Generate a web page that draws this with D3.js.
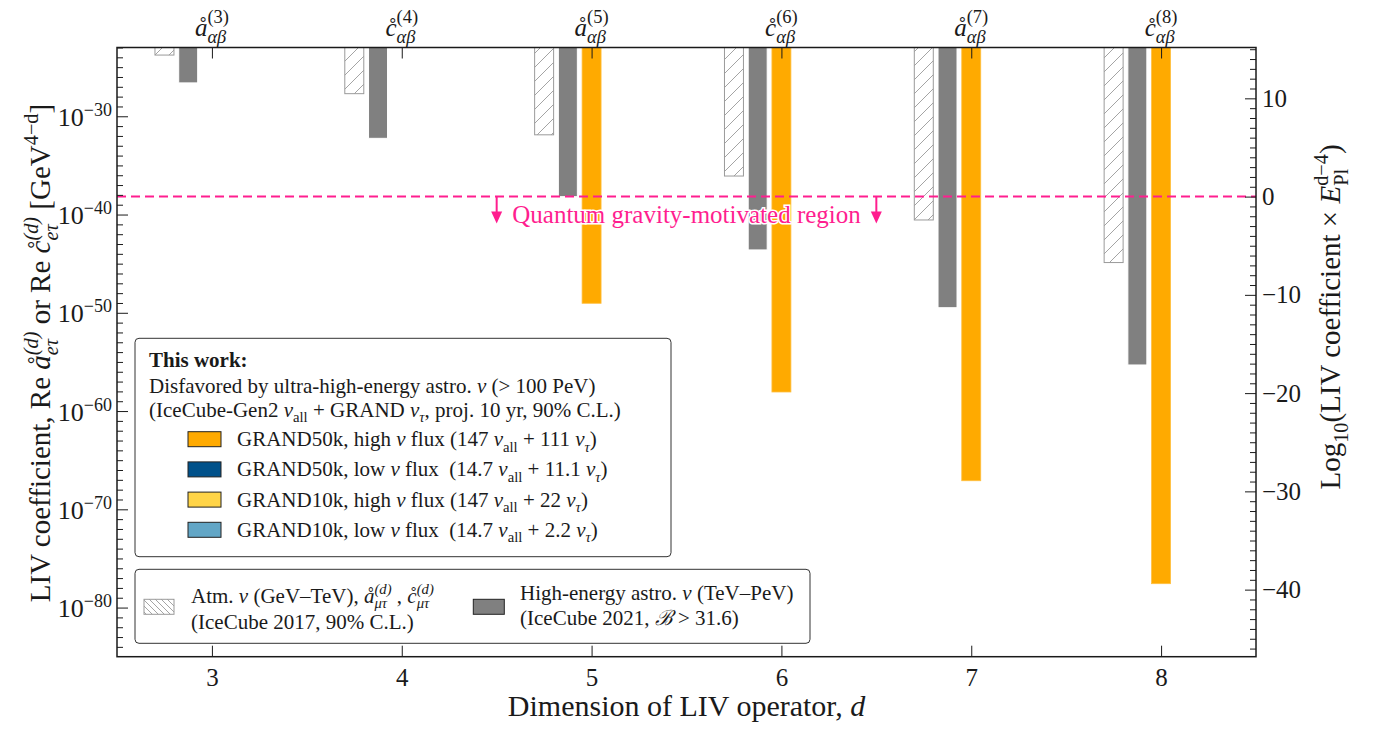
<!DOCTYPE html>
<html>
<head>
<meta charset="utf-8">
<script src="https://cdn.jsdelivr.net/npm/d3@7"></script>
<style>
  body { margin: 0; background: #fff; }
  text { font-family: "Liberation Serif", "DejaVu Serif", serif; fill: #1a1a1a; white-space: pre; }
</style>
</head>
<body>
<script>
// LIV operator dimension d, one group of bars per d
const dims = [3, 4, 5, 6, 7, 8];
const opLetters = ["å", "c\u030A", "å", "c\u030A", "å", "c\u030A"];

// upper limits on the LIV coefficient [GeV^(4-d)], bars hang from the top down to the limit
const atmLimit2017 = [1.7e-24, 2.0e-28, 1.3e-32, 8.3e-37, 2.8e-41, 1.3e-45];
const astroLimit2021 = [2.5e-27, 5.7e-33, 6.6e-39, 2.5e-44, 3.3e-50, 4.9e-56];
const grand50kHigh = [null, null, 9.3e-50, 8.7e-59, 8.1e-68, 2.7e-78];

// "this work" legend entries
const thisWorkNames = ["GRAND50k, high", "GRAND50k, low", "GRAND10k, high", "GRAND10k, low"];
const thisWorkNuAll = ["147", "14.7", "147", "14.7"];
const thisWorkNuTau = ["111", "11.1", "22", "2.2"];
const thisWorkColors = ["#ffaa00", "#00518a", "#ffd447", "#62a6c6"];

// axes
const leftMajorExp = [-30, -40, -50, -60, -70, -80];
const rightMajor = [10, 0, -10, -20, -30, -40];
const log10Planck = 19.087;           // log10(E_Pl / GeV)
const rightShift = 2 * log10Planck;   // right axis = left axis + (d-4)*log10 E_Pl, d = 6
const qgArrowDims = [4.5, 6.5];

const W = 1386, H = 731;
const m = { left: 117, right: 1256, top: 47.5, bottom: 656.7 };
const legFont = 21;

const svg = d3.select("body").append("svg").attr("width", W).attr("height", H);

const x = d3.scaleLinear().domain([2.5, 8.5]).range([m.left, m.right]);
const yL = d3.scaleLog().domain([1e-23, 1e-85]).range([m.top, m.bottom]);
const yR = d3.scaleLinear().domain([-23 + rightShift, -85 + rightShift]).range([m.top, m.bottom]);
const barW = x(2.6) - x(2.5);

// text with sub / superscripts
function rich(text, segs, size, opt = {}) {
  let shift = 0, padDx = 0;
  const supOff = (opt.sup || -0.42) * size, subOff = (opt.sub || 0.26) * size, small = (opt.scale || 0.7) * size;
  function span(t, off, o) {
    const s = text.append("tspan").text(t).attr("dy", off - shift);
    if (padDx) s.attr("dx", padDx);
    padDx = 0; shift = off;
    if (off !== 0) s.attr("font-size", small);
    if (o.it) s.attr("font-style", "italic");
    if (o.b) s.attr("font-weight", "bold");
    return s;
  }
  segs.forEach(sg => {
    if (typeof sg === "string") sg = { t: sg };
    if (sg.sup !== undefined && sg.sub !== undefined) {
      const a = span(sg.sup, supOff, { it: sg.supIt });
      const w1 = a.node().getComputedTextLength();
      padDx = -w1;
      const b = span(sg.sub, subOff, { it: sg.subIt });
      const w2 = b.node().getComputedTextLength();
      padDx = Math.max(0, w1 - w2);
    } else {
      span(sg.t, sg.pos === "sup" ? supOff : sg.pos === "sub" ? subOff : 0, sg);
    }
  });
}

// patterns
const defs = svg.append("defs");
defs.append("pattern").attr("id", "hatchBar").attr("patternUnits", "userSpaceOnUse")
  .attr("width", 14).attr("height", 14)
  .append("path").attr("d", "M0,14 L14,0 M-3.5,3.5 L3.5,-3.5 M10.5,17.5 L17.5,10.5")
  .attr("stroke", "#9a9a9a").attr("stroke-width", 0.9);
defs.append("pattern").attr("id", "hatchLeg").attr("patternUnits", "userSpaceOnUse")
  .attr("width", 6).attr("height", 6)
  .append("path").attr("d", "M0,0 L6,6 M-1.5,4.5 L1.5,7.5 M4.5,-1.5 L7.5,1.5")
  .attr("stroke", "#9a9a9a").attr("stroke-width", 0.9);
defs.append("clipPath").attr("id", "plotClip").append("rect")
  .attr("x", m.left).attr("y", m.top).attr("width", m.right - m.left).attr("height", m.bottom - m.top);

const bars = svg.append("g").attr("clip-path", "url(#plotClip)");

// bars
bars.selectAll(".atm").data(dims).enter().append("rect")
  .attr("x", (d, i) => x(d - 0.25) - barW / 2)
  .attr("y", m.top)
  .attr("width", barW)
  .attr("height", (d, i) => yL(atmLimit2017[i]) - m.top)
  .attr("fill", "url(#hatchBar)").attr("stroke", "#9a9a9a").attr("stroke-width", 1);

bars.selectAll(".astro").data(dims).enter().append("rect")
  .attr("x", (d, i) => x(d - 0.125) - barW / 2)
  .attr("y", m.top)
  .attr("width", barW)
  .attr("height", (d, i) => yL(astroLimit2021[i]) - m.top)
  .attr("fill", "#808080").attr("stroke", "#fff").attr("stroke-width", 1);

bars.selectAll(".grand").data(dims.filter((d, i) => grand50kHigh[i] !== null)).enter().append("rect")
  .attr("x", d => x(d) - barW / 2)
  .attr("y", m.top)
  .attr("width", barW)
  .attr("height", d => yL(grand50kHigh[dims.indexOf(d)]) - m.top)
  .attr("fill", thisWorkColors[0]).attr("stroke", "#ffbf40").attr("stroke-width", 0.8);

// quantum gravity line
const pink = "#ff1e8f";
const y0 = yR(0);
svg.append("line").attr("x1", m.left).attr("x2", m.right).attr("y1", y0).attr("y2", y0)
  .attr("stroke", pink).attr("stroke-width", 2).attr("stroke-dasharray", "9,5");
qgArrowDims.forEach(d => {
  svg.append("line").attr("x1", x(d)).attr("x2", x(d)).attr("y1", y0).attr("y2", y0 + 17)
    .attr("stroke", pink).attr("stroke-width", 2);
  svg.append("path").attr("d", `M${x(d) - 5.5},${y0 + 15} L${x(d) + 5.5},${y0 + 15} L${x(d)},${y0 + 27} Z`)
    .attr("fill", pink);
});
svg.append("text").attr("x", x(5.5)).attr("y", y0 + 26).attr("text-anchor", "middle")
  .attr("font-size", 25).style("fill", pink)
  .attr("stroke", "#fff").attr("stroke-width", 3).attr("paint-order", "stroke")
  .text("Quantum gravity-motivated region");

// axes
function styleAxis(g) {
  g.select(".domain").remove();
  g.selectAll(".tick line").attr("stroke", "#1a1a1a").attr("stroke-width", 1);
  g.selectAll("text").attr("font-family", null).attr("font-size", 25).style("fill", "#1a1a1a");
}
const leftMinor = d3.range(-84, -22).filter(e => e % 10 !== 0).map(e => Math.pow(10, e));
svg.append("g").attr("transform", `translate(${m.left},0)`)
  .call(d3.axisLeft(yL).tickValues(leftMinor).tickSize(-6).tickFormat("")).call(styleAxis);
svg.append("g").attr("transform", `translate(${m.left},0)`)
  .call(d3.axisLeft(yL).tickValues(leftMajorExp.map(e => Math.pow(10, e))).tickSize(-11).tickFormat("")).call(styleAxis);
leftMajorExp.forEach(e => {
  const t = svg.append("text").attr("x", m.left - 5).attr("y", yL(Math.pow(10, e)) + 9.5)
    .attr("text-anchor", "end").attr("font-size", 26);
  t.append("tspan").text("10");
  t.append("tspan").text("\u2212" + (-e)).attr("font-size", 18).attr("dy", -10);
});

const rightMinor = d3.range(-46, 16).filter(v => v % 10 !== 0);
svg.append("g").attr("transform", `translate(${m.right},0)`)
  .call(d3.axisRight(yR).tickValues(rightMinor).tickSize(-6).tickFormat("")).call(styleAxis);
svg.append("g").attr("transform", `translate(${m.right},0)`)
  .call(d3.axisRight(yR).tickValues(rightMajor).tickSize(-11).tickPadding(6).tickFormat(d3.format("d")))
  .call(styleAxis);

svg.append("g").attr("transform", `translate(0,${m.bottom})`)
  .call(d3.axisBottom(x).tickValues(dims).tickSize(-11).tickPadding(12).tickFormat(d3.format("d")))
  .call(styleAxis);
svg.append("g").attr("transform", `translate(0,${m.top})`)
  .call(d3.axisTop(x).tickValues(dims).tickSize(-11).tickFormat("")).call(styleAxis);

// operator labels above the frame
dims.forEach((d, i) => {
  const t = svg.append("text").attr("x", x(d)).attr("y", 36).attr("text-anchor", "middle").attr("font-size", 25);
  rich(t, [{ t: opLetters[i], it: true }, { sup: "(" + d + ")", sub: "αβ", subIt: true }], 25,
    { sup: -0.52, sub: 0.27, scale: 0.74 });
});

// frame
svg.append("rect").attr("x", m.left).attr("y", m.top).attr("width", m.right - m.left).attr("height", m.bottom - m.top)
  .attr("fill", "none").attr("stroke", "#1a1a1a").attr("stroke-width", 1.5);

// axis titles
svg.append("text").attr("x", (m.left + m.right) / 2).attr("y", 716).attr("text-anchor", "middle")
  .attr("font-size", 30).call(t => rich(t, ["Dimension of LIV operator, ", { t: "d", it: true }], 30));

svg.append("text").attr("transform", "translate(50,353) rotate(-90)").attr("text-anchor", "middle")
  .attr("font-size", 29).call(t => rich(t, [
    "LIV coefficient, Re ", { t: "å", it: true }, { sup: "(d)", sub: "eτ", supIt: true, subIt: true },
    " or Re ", { t: "c\u030A", it: true }, { sup: "(d)", sub: "eτ", supIt: true, subIt: true },
    " [GeV", { t: "4−d", pos: "sup" }, "]"], 29));

svg.append("text").attr("transform", "translate(1340,317) rotate(-90)").attr("text-anchor", "middle")
  .attr("font-size", 29).call(t => rich(t, [
    "Log", { t: "10", pos: "sub" }, "(LIV coefficient × ", { t: "E", it: true },
    { sup: "d−4", sub: "Pl" }, ")"], 29));

// legend 1: this work
const lg = svg.append("g");
lg.append("rect").attr("x", 135).attr("y", 338.3).attr("width", 536).attr("height", 218.4).attr("rx", 4)
  .attr("fill", "#fff").attr("stroke", "#333").attr("stroke-width", 1);
lg.append("text").attr("x", 149).attr("y", 367).attr("font-size", legFont).attr("font-weight", "bold").text("This work:");
lg.append("text").attr("x", 149).attr("y", 392.5).attr("font-size", legFont)
  .call(t => rich(t, ["Disfavored by ultra-high-energy astro. ", { t: "ν", it: true }, " (> 100 PeV)"], legFont));
lg.append("text").attr("x", 149).attr("y", 416.7).attr("font-size", legFont)
  .call(t => rich(t, ["(IceCube-Gen2 ", { t: "ν", it: true }, { t: "all", pos: "sub" }, " + GRAND ",
    { t: "ν", it: true }, { t: "τ", pos: "sub", it: true }, ", proj. 10 yr, 90% C.L.)"], legFont));
thisWorkNames.forEach((name, i) => {
  const yy = 431.7 + i * 30.2;
  lg.append("rect").attr("x", 188).attr("y", yy).attr("width", 33).attr("height", 15)
    .attr("fill", thisWorkColors[i]).attr("stroke", "#222").attr("stroke-width", 1);
  const sep = thisWorkNuAll[i].length > 3 ? "  (" : " (";
  lg.append("text").attr("x", 237).attr("y", yy + 14.5).attr("font-size", legFont)
    .call(t => rich(t, [name + " ", { t: "ν", it: true }, " flux" + sep + thisWorkNuAll[i] + " ",
      { t: "ν", it: true }, { t: "all", pos: "sub" }, " + " + thisWorkNuTau[i] + " ",
      { t: "ν", it: true }, { t: "τ", pos: "sub", it: true }, ")"], legFont));
});

// legend 2: existing limits
const lg2 = svg.append("g");
lg2.append("rect").attr("x", 135).attr("y", 569.3).attr("width", 675).attr("height", 74).attr("rx", 4)
  .attr("fill", "#fff").attr("stroke", "#333").attr("stroke-width", 1);
lg2.append("rect").attr("x", 144).attr("y", 599.3).attr("width", 30).attr("height", 15)
  .attr("fill", "url(#hatchLeg)").attr("stroke", "#9a9a9a").attr("stroke-width", 1);
lg2.append("text").attr("x", 191).attr("y", 602.5).attr("font-size", legFont)
  .call(t => rich(t, ["Atm. ", { t: "ν", it: true }, " (GeV–TeV), ", { t: "å", it: true },
    { sup: "(d)", sub: "μτ", supIt: true, subIt: true }, " , ", { t: "c\u030A", it: true },
    { sup: "(d)", sub: "μτ", supIt: true, subIt: true }], legFont));
lg2.append("text").attr("x", 191).attr("y", 629).attr("font-size", legFont).text("(IceCube 2017, 90% C.L.)");
lg2.append("rect").attr("x", 473.3).attr("y", 599.3).attr("width", 31).attr("height", 15)
  .attr("fill", "#808080").attr("stroke", "#222").attr("stroke-width", 1);
lg2.append("text").attr("x", 520).attr("y", 600).attr("font-size", legFont)
  .call(t => rich(t, ["High-energy astro. ", { t: "ν", it: true }, " (TeV–PeV)"], legFont));
lg2.append("text").attr("x", 520).attr("y", 624.5).attr("font-size", legFont)
  .call(t => rich(t, ["(IceCube 2021, ", { t: "ℬ", it: true }, " > 31.6)"], legFont));
</script>
</body>
</html>
